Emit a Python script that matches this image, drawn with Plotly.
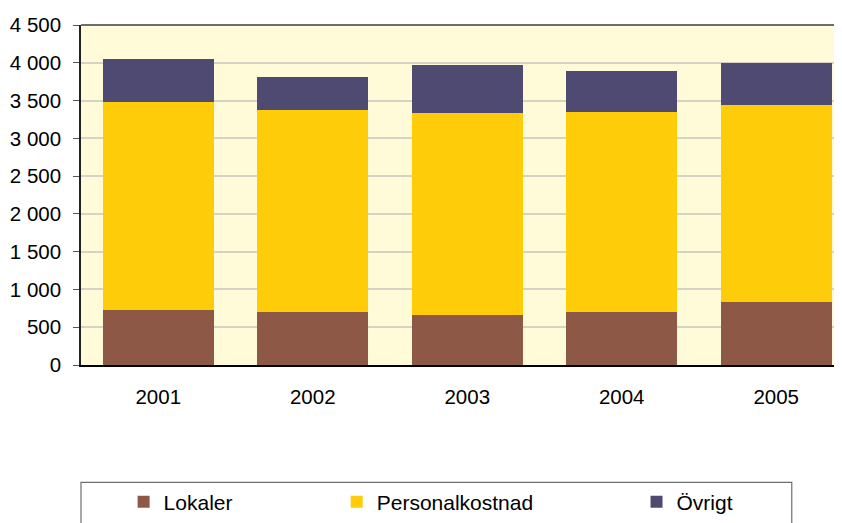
import plotly.graph_objects as go

years = ["2001", "2002", "2003", "2004", "2005"]
lokaler = [724, 697, 658, 697, 829]
personal = [2763, 2673, 2672, 2646, 2614]
ovrigt = [561, 443, 640, 548, 553]
y_ticks = [0, 500, 1000, 1500, 2000, 2500, 3000, 3500, 4000, 4500]

font = dict(family="Liberation Sans, Arial, sans-serif", size=20.5, color="#000000")

fig = go.Figure()
fig.add_trace(go.Bar(x=years, y=lokaler, name="Lokaler", marker=dict(color="#8E5846", line=dict(width=0)), legend="legend"))
fig.add_trace(go.Bar(x=years, y=personal, name="Personalkostnad", marker=dict(color="#FFCC0A", line=dict(width=0)), legend="legend2"))
fig.add_trace(go.Bar(x=years, y=ovrigt, name="Övrigt", marker=dict(color="#4F4A72", line=dict(width=0)), legend="legend3"))

leg_common = dict(orientation="h", yanchor="middle", y=-0.403, xanchor="left",
                  font=dict(family=font["family"], size=21, color="#000"),
                  bgcolor="rgba(0,0,0,0)", borderwidth=0, itemwidth=30)

fig.update_layout(
    width=834, height=515,
    margin=dict(l=73, r=0, t=17, b=156, pad=0),
    barmode="stack", bargap=0.28,
    paper_bgcolor="white", plot_bgcolor="#FFFAD7",
    font=font,
    separators=", ",
    showlegend=True,
    legend=dict(leg_common, x=0.056),
    legend2=dict(leg_common, x=0.336),
    legend3=dict(leg_common, x=0.730),
    xaxis=dict(range=[-0.5, 4.426], showline=True, linecolor="#000000", linewidth=1.5,
               ticks="", ticklabelstandoff=13, showgrid=False, fixedrange=True),
    yaxis=dict(range=[0, 4500], tickvals=y_ticks, tickformat=",d", showline=True,
               linecolor="#222222", linewidth=1.5, ticks="outside", ticklen=6,
               tickcolor="#555555", ticklabelstandoff=8,
               showgrid=True, gridcolor="#D6D3C4", gridwidth=1.5, zeroline=False),
    shapes=[
        dict(type="line", xref="paper", yref="paper", x0=0, x1=1, y0=1, y1=1,
             line=dict(color="#6E6E6E", width=2)),
        dict(type="rect", xref="paper", yref="paper", x0=0, x1=0.934, y0=-0.345, y1=-0.55,
             line=dict(color="#6E6E6E", width=1.2), fillcolor="rgba(0,0,0,0)"),
    ],
)

fig.write_html("out.html")
